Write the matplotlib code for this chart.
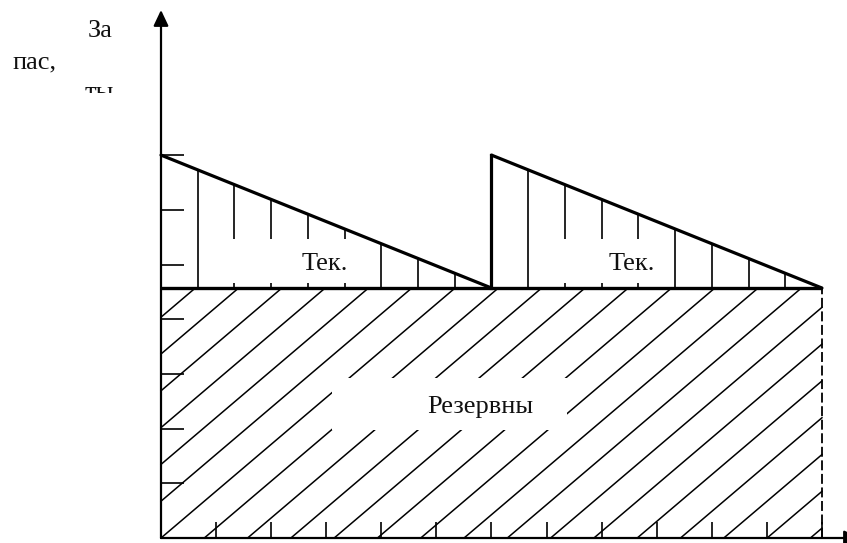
import matplotlib
matplotlib.use("Agg")
import matplotlib.pyplot as plt
from matplotlib.patches import Rectangle
from matplotlib.transforms import Bbox, TransformedBbox
import numpy as np

# ---------------- data ----------------
period_starts = [0, 6]            # start of each replenishment cycle (time units)
period_length = 6                 # length of a cycle
max_stock = [7.0, 7.0]            # stock level right after each delivery
reserve_stock = 4.57              # reserve (safety) stock level
time_ticks = list(range(1, 13))
stock_ticks = [1, 2, 3, 4, 5, 6, 7]
current_label = "Тек."
reserve_label = "Резервны"
ylabel_parts = ["За", "пас,", "ты"]

# ---------------- layout / style ----------------
W, H = 847, 543
X0_PX, Y0_PX = 161, 538          # pixel position of the origin
SX, SY = 55.08, 54.7             # pixels per data unit

def dx(px):
    return (px - X0_PX) / SX

def dy(py):
    return (Y0_PX - py) / SY

vhatch_step = 2 / 3
dhatch_step = 0.786
dhatch_slope = 0.856
FONT = dict(family="Liberation Serif", size=19, color="#111111")

fig = plt.figure(figsize=(W / 100, H / 100), dpi=100)
ax = fig.add_axes([0, 0, 1, 1])
ax.set_xlim(dx(0), dx(W))
ax.set_ylim(dy(H), dy(0))
ax.axis("off")

t_end = period_starts[-1] + period_length

# diagonal hatch of the reserve stock region (clipped analytically)
kmin = -int(np.ceil(reserve_stock / dhatch_slope / dhatch_step)) - 1
kmax = int(np.ceil(t_end / dhatch_step)) + 1
for k in range(kmin, kmax + 1):
    xa = k * dhatch_step
    xl = max(0.0, xa)
    xr = min(float(t_end), xa + reserve_stock / dhatch_slope)
    if xr <= xl:
        continue
    xs = np.array([xl, xr])
    ax.plot(xs, dhatch_slope * (xs - xa), color="black", lw=1.1, zorder=2)

# white gap behind the reserve label
ax.add_patch(Rectangle((dx(332), dy(430)), dx(567) - dx(332), dy(378) - dy(430),
                       fc="white", ec="none", zorder=3))

# current stock triangles with vertical hatch
label_x = [dx(325), dx(632)]
box_x = [(1.0, 3.6), (6.9, 9.1)]
for s, m, lx, (bx0, bx1) in zip(period_starts, max_stock, label_x, box_x):
    xs = s + vhatch_step * np.arange(1, int(round(period_length / vhatch_step)))
    tops = m - (m - reserve_stock) * (xs - s) / period_length
    ax.vlines(xs, reserve_stock, tops, color="black", lw=1.2, zorder=2)
    ax.add_patch(Rectangle((bx0, dy(283)), bx1 - bx0, dy(239) - dy(283),
                           fc="white", ec="none", zorder=3))
    if s > 0:
        ax.plot([s, s], [reserve_stock, m], color="black", lw=2.3,
                solid_capstyle="projecting", zorder=5)
    ax.plot([s, s + period_length], [m, reserve_stock], color="black", lw=2.3,
            solid_capstyle="round", zorder=5)
    ax.text(lx, dy(270), current_label, ha="center", va="baseline", zorder=6, **FONT)

# reserve level line
ax.plot([0, t_end], [reserve_stock, reserve_stock], color="black", lw=2.4,
        solid_capstyle="butt", zorder=5)

# dashed right border of the reserve region
ax.plot([t_end, t_end], [0, reserve_stock], color="black", lw=1.3,
        ls=(0, (5.5, 2.0)), zorder=4)

# ticks
ax.hlines(stock_ticks, 0, 0.42, color="black", lw=1.2, zorder=4)
ax.vlines(time_ticks, 0, 0.29, color="black", lw=1.2, zorder=4)

# axes with arrows
arrow = dict(arrowstyle="-|>,head_length=0.95,head_width=0.45", lw=1.6,
             color="black", shrinkA=0, shrinkB=0, mutation_scale=10)
ax.annotate("", xy=(0, dy(10)), xytext=(0, 0), arrowprops=arrow, zorder=7,
            annotation_clip=False)
ax.annotate("", xy=(dx(860), 0), xytext=(0, 0), arrowprops=arrow, zorder=7,
            annotation_clip=False)

# reserve label
ax.text(dx(480), dy(413), reserve_label, ha="center", va="baseline", zorder=6, **FONT)

# y-axis caption (broken into pieces, last one partly cut off)
ax.text(dx(88), dy(37), ylabel_parts[0], ha="left", va="baseline", **FONT)
ax.text(dx(12), dy(68), ylabel_parts[1], ha="left", va="baseline", **FONT)
t = ax.text(dx(85), dy(99), ylabel_parts[2], ha="left", va="baseline", **FONT)
t.set_clip_on(True)
t.set_clip_box(TransformedBbox(Bbox.from_extents(dx(0), dy(93), dx(150), dy(0)),
                               ax.transData))

fig.savefig("out.png", dpi=100, facecolor="white")
